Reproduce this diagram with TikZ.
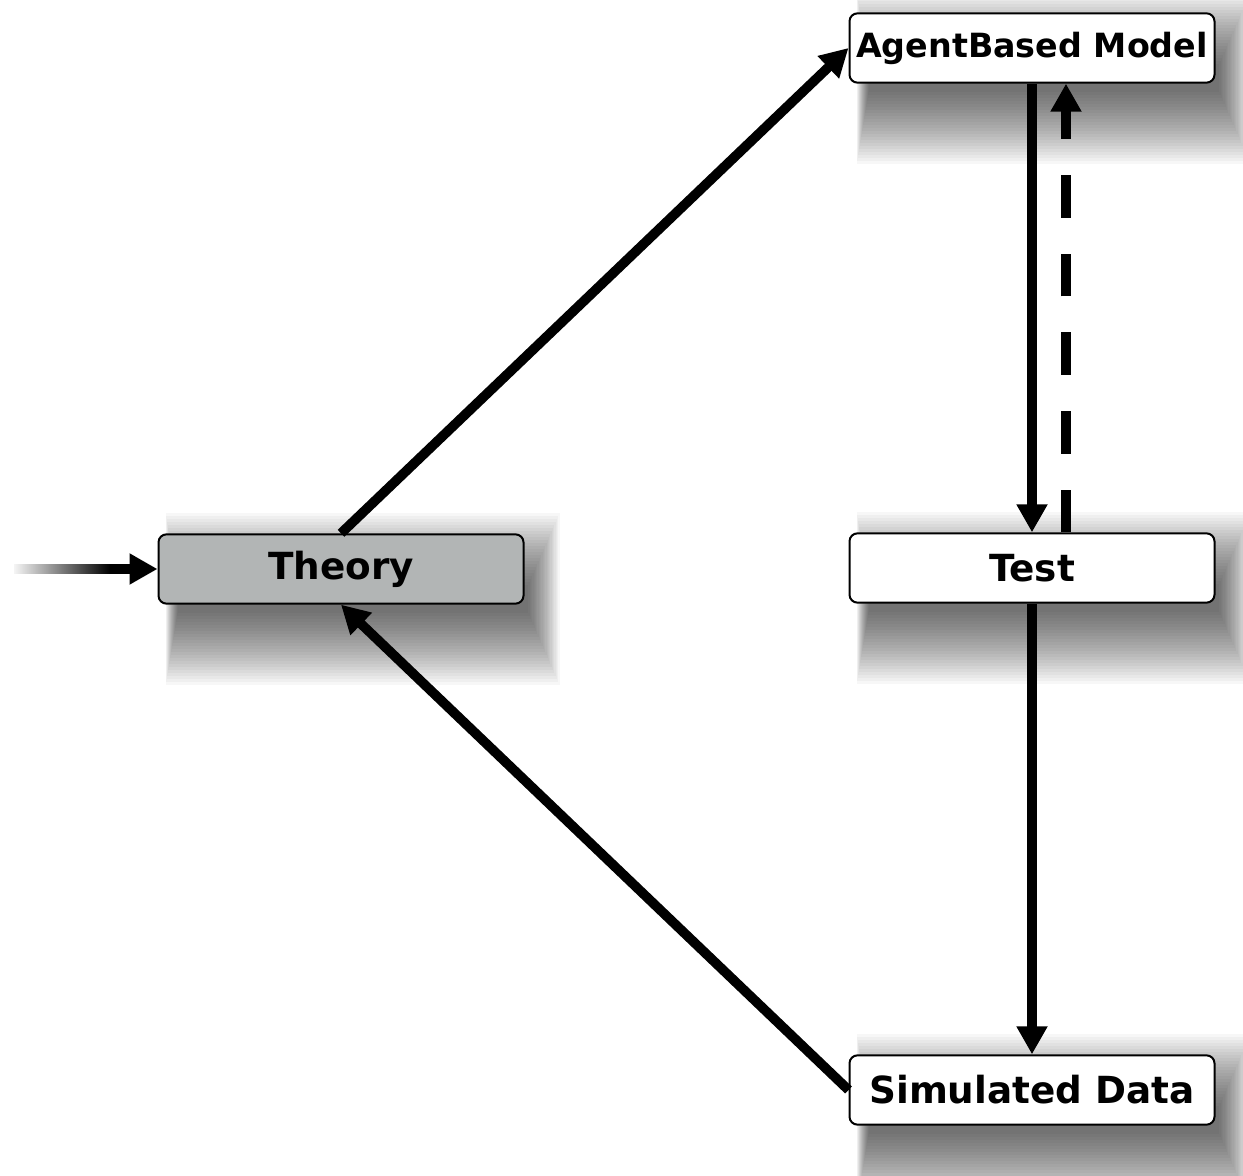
\documentclass[tikz,border=0pt]{standalone}
\usepackage{fontspec}
\setsansfont{DejaVu Sans}
\usetikzlibrary{arrows.meta}
\usetikzlibrary{backgrounds}
\usetikzlibrary{fadings}
\definecolor{theorygray}{RGB}{178,181,181}
\tikzfading[name=fade out, left color=transparent!0, right color=transparent!100]
\tikzstyle{flowhead}=[>/.tip={Triangle[length=21pt,width=22pt]}]
\tikzstyle{flow} =[line width=7.25pt,flowhead,->]
\tikzstyle{flowd}=[flow,dash pattern=on 32pt off 27pt]
\tikzstyle{stage}=[draw,line width=1.5pt,rounded corners=6pt,fill=white,minimum width=273.75pt,minimum height=52pt,inner sep=0pt,font=\sffamily\bfseries\fontsize{28}{32}\selectfont]

\begin{document}
\begin{tikzpicture}[x=0.75pt,y=-0.75pt]
	\useasboundingbox (0,0) rectangle (1243,1176);
	\node[stage,font=\sffamily\bfseries\fontsize{25}{30}\selectfont] (abm) at (1032,48) {AgentBased Model};
	\node[stage,fill=theorygray] (theory) at (341,569) {Theory};
	\node[stage] (test) at (1032,568) {Test};
	\node[stage] (sim) at (1032,1090) {Simulated Data};
	\coordinate (in) at (14,569);
	% soft shadows
	\begin{scope}[on background layer]
	  \foreach \n in {abm,theory,test,sim}
	    \foreach \i in {0,...,24}
	      \fill[black,opacity=.03] ([shift={(8+0.5*\i,-20+3*\i)}]\n.north west) rectangle ([shift={(35-1.3*\i,80-3*\i)}]\n.south east);
	\end{scope}
	\draw[flow] (in) -- (theory.west);
	\fill[white,path fading=fade out] ([shift={(-4,-12)}]in) rectangle ([shift={(96,12)}]in);
	\draw[flow] (theory.north) -- (abm.west);
	\draw[flow] (abm.south) -- (test.north);
	\draw[flowd] ([xshift=25.5pt]test.north) -- ([xshift=25.5pt]abm.south);
	\draw[flow] (test.south) -- (sim.north);
	\draw[flow] (sim.west) -- (theory.south);
\end{tikzpicture}
\end{document}
